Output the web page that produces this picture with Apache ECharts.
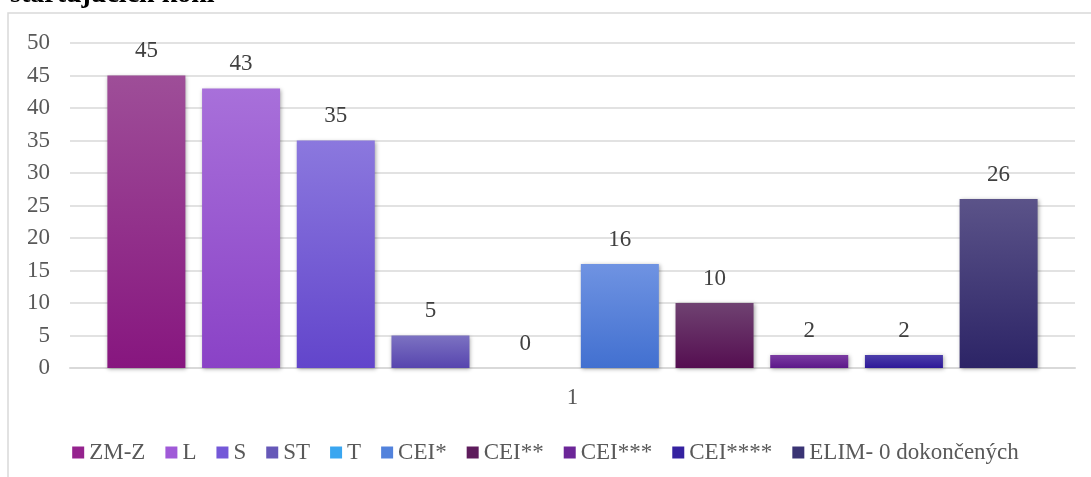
<!DOCTYPE html>
<html>
<head>
<meta charset="utf-8">
<style>
html,body{margin:0;padding:0;background:#fff;}
#c{width:1091px;height:477px;}
</style>
<script src="https://cdn.jsdelivr.net/npm/echarts@6/dist/echarts.min.js"></script>
</head>
<body>
<div id="c"></div>
<script>
const categories = ['1'];
const seriesNames = ['ZM-Z', 'L', 'S', 'ST', 'T', 'CEI*', 'CEI**', 'CEI***', 'CEI****', 'ELIM- 0 dokončených'];
const seriesValues = [45, 43, 35, 5, 0, 16, 10, 2, 2, 26];
const yTicks = [0, 5, 10, 15, 20, 25, 30, 35, 40, 45, 50];
const titleText = 'startujúcich koní';

const gradTop = ['#9e4e98', '#a870da', '#8b78de', '#7c72c2', '#6cc0f6', '#6f93e2', '#6f4271', '#7b3ca2', '#4c3eaa', '#5b5389'];
const gradBot = ['#87167f', '#8a42c6', '#6245cb', '#5745ae', '#2f97ea', '#4270d0', '#550e51', '#5c1889', '#2d1898', '#2c2466'];
const legendCol = ['#95238e', '#a05ad8', '#7458d8', '#6658b8', '#3aa6f0', '#5282dc', '#5e1c5c', '#6c2698', '#3522a0', '#3a3474'];

const FONT = '"Liberation Serif", "Times New Roman", serif';

const chart = echarts.init(document.getElementById('c'), null, {renderer: 'canvas'});

const series = seriesNames.map((name, i) => ({
  name: name,
  type: 'bar',
  data: [seriesValues[i]],
  barWidth: 78,
  barGap: '21.4%',
  itemStyle: {
    color: new echarts.graphic.LinearGradient(0, 0, 0, 1, [
      {offset: 0, color: gradTop[i]},
      {offset: 1, color: gradBot[i]}
    ]),
    shadowBlur: 4,
    shadowColor: 'rgba(0,0,0,0.35)',
    shadowOffsetX: 1,
    shadowOffsetY: 1
  },
  label: {
    show: true,
    position: 'top',
    distance: 13,
    fontFamily: FONT,
    fontSize: 23,
    color: '#404040'
  },
  emphasis: {disabled: true}
}));

chart.setOption({
  animation: false,
  backgroundColor: '#ffffff',
  color: legendCol,
  grid: {left: 70, right: 16, top: 43, bottom: 109, containLabel: false},
  xAxis: {
    type: 'category',
    data: categories,
    axisLine: {show: true, lineStyle: {color: '#d9d9d9', width: 2}},
    axisTick: {show: false},
    axisLabel: {fontFamily: FONT, fontSize: 23, color: '#595959', margin: 18}
  },
  yAxis: {
    type: 'value',
    min: yTicks[0],
    max: yTicks[yTicks.length - 1],
    interval: yTicks[1] - yTicks[0],
    axisLine: {show: false},
    axisTick: {show: false},
    axisLabel: {fontFamily: FONT, fontSize: 23, color: '#595959', margin: 20},
    splitLine: {lineStyle: {color: '#d9d9d9', width: 1.5}}
  },
  legend: {
    data: seriesNames.map((n, i) => ({name: n, itemStyle: {color: legendCol[i]}})),
    top: 436,
    left: 'center',
    itemWidth: 12,
    itemHeight: 12,
    itemGap: 20,
    icon: 'rect',
    textStyle: {fontFamily: FONT, fontSize: 23, color: '#595959'}
  },
  graphic: [
    {
      type: 'rect',
      shape: {x: 8, y: 13, width: 1200, height: 600},
      style: {fill: null, stroke: '#d9d9d9', lineWidth: 1.5},
      silent: true,
      z: -1
    },
    {
      type: 'text',
      style: {
        text: titleText,
        x: 10,
        y: 9,
        fill: '#000000',
        font: 'bold 28px "Liberation Serif", serif',
        verticalAlign: 'bottom'
      },
      silent: true
    }
  ],
  series: series
});
</script>
</body>
</html>
